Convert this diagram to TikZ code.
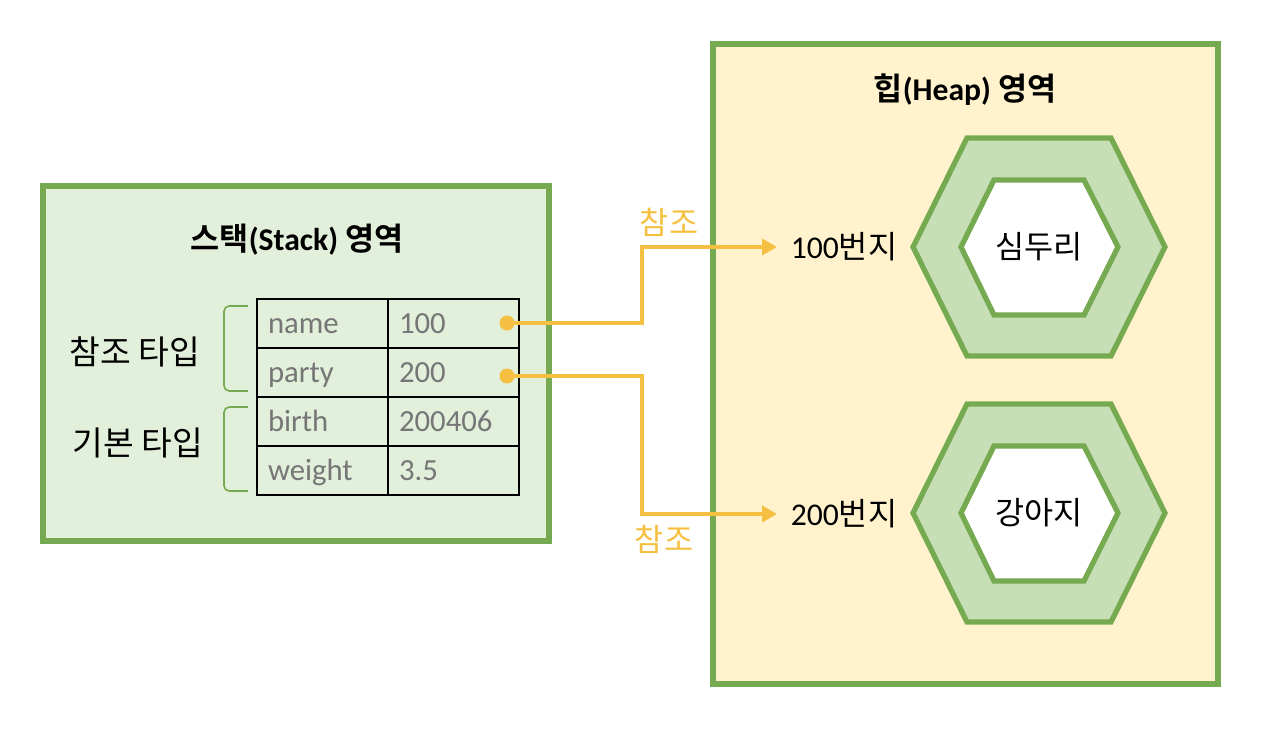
\documentclass[tikz,border=0pt]{standalone}
\usepackage{fontspec}
\setmainfont{Carlito}
\newfontfamily\kr{Noto Sans CJK KR}[BoldFont={Noto Sans CJK KR Bold}]
\usetikzlibrary{arrows.meta,positioning}
\definecolor{memgreen}{RGB}{118,170,80}
\definecolor{stackfill}{RGB}{226,239,218}
\definecolor{heapfill}{RGB}{255,242,204}
\definecolor{hexfill}{RGB}{199,223,183}
\definecolor{refgold}{RGB}{245,192,65}
\definecolor{cellgray}{RGB}{118,118,118}

\begin{document}
\begin{tikzpicture}[x=0.02cm, y=-0.02cm,
  area/.style={draw=memgreen, line width=3.4pt},
  title/.style={font=\fontsize{18}{21}\selectfont\bfseries},
  lbl/.style={font=\fontsize{18}{21}\selectfont},
  cell/.style={draw, line width=1.1pt, minimum width=2.62cm, minimum height=0.98cm,
    text width=2.18cm, inner xsep=0.22cm, align=left, text=cellgray,
    text height=2.7ex, text depth=0.4ex, font=\fontsize{17.5}{20}\selectfont},
  brk/.style={draw=memgreen, line width=0.9pt, rounded corners=3pt},
  hexring/.style={draw=memgreen, line width=3pt},
  dot/.style={circle, fill=refgold, inner sep=0pt, minimum size=0.3cm},
  ref/.style={draw=refgold, line width=2.3pt, -{Triangle[length=0.3cm, width=0.32cm]}}]
\useasboundingbox (0,0) rectangle (1267,740);
% stack and heap areas
\draw[area, fill=stackfill] (43,186) rectangle (549,541);
\draw[area, fill=heapfill] (713,44) rectangle (1218,684);
\node[title] (stacktitle) at (297,240) {{\kr 스택}(Stack) {\kr 영역}};
\node[title] (heaptitle) at (965,90) {{\kr 힙}(Heap) {\kr 영역}};
% variable table
\node[cell] (k1) at (322.5,323.5) {name};
\node[cell] (v1) at (453.5,323.5) {100};
\node[cell] (k2) at (322.5,372.5) {party};
\node[cell] (v2) at (453.5,372.5) {200};
\node[cell] (k3) at (322.5,421.5) {birth};
\node[cell] (v3) at (453.5,421.5) {200406};
\node[cell] (k4) at (322.5,470.5) {weight};
\node[cell] (v4) at (453.5,470.5) {3.5};
% type brackets
\draw[brk] (248,306) -- (224,306) -- (224,391) -- (248,391);
\draw[brk] (248,407) -- (224,407) -- (224,491) -- (248,491);
\node[lbl, font=\fontsize{19}{22}\selectfont] (reftype) at (135,352) {\kr 참조 타입};
\node[lbl, font=\fontsize{19}{22}\selectfont] (basetype) at (138,443) {\kr 기본 타입};
% heap objects
\foreach \cy/\who [count=\i] in {247/심두리, 513/강아지} {
  \draw[hexring, fill=hexfill] (913,\cy) -- (967,{\cy-109}) -- (1111,{\cy-109})
    -- (1165,\cy) -- (1111,{\cy+109}) -- (967,{\cy+109}) -- cycle;
  \draw[hexring, fill=white] (961,\cy) -- (994,{\cy-67}) -- (1084,{\cy-67})
    -- (1118,\cy) -- (1084,{\cy+68}) -- (994,{\cy+68}) -- cycle;
  \node[lbl] (obj\i) at (1039,\cy) {\kr \who};
}
\node[lbl] (addr1) at (844,247) {100{\kr 번지}};
\node[lbl] (addr2) at (844,514) {200{\kr 번지}};
% references
\node[dot] (d1) at (507,323) {};
\node[dot] (d2) at (507,376) {};
\coordinate (jog) at (642,0);
\coordinate (tip1) at (777,247);
\coordinate (tip2) at (777,514);
\draw[ref] (d1.center) -- (d1 -| jog) |- (tip1);
\draw[ref] (d2.center) -- (d2 -| jog) |- (tip2);
\node[lbl, text=refgold] (ref1) at (669,222) {\kr 참조};
\node[lbl, text=refgold] (ref2) at (664,539) {\kr 참조};
\end{tikzpicture}
\end{document}
